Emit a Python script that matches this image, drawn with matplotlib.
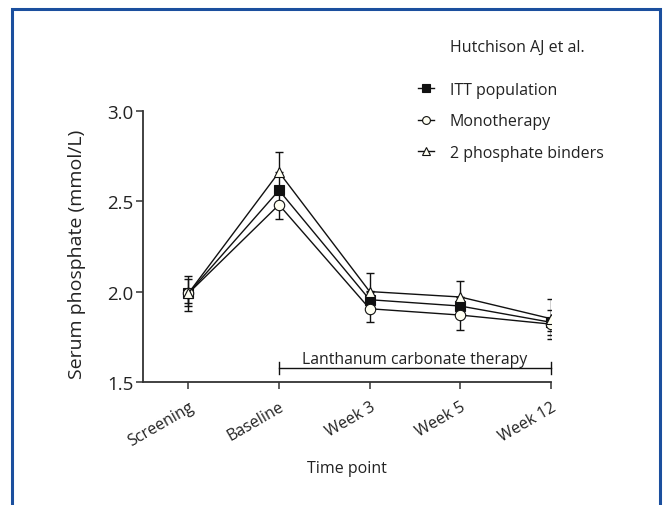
import matplotlib
matplotlib.use("Agg")
import matplotlib.pyplot as plt
from matplotlib.patches import Rectangle

plt.rcParams['font.family'] = ['Open Sans', 'DejaVu Sans']

# data
time_points = ['Screening', 'Baseline', 'Week 3', 'Week 5', 'Week 12']

itt_mean = [1.99, 2.56, 1.955, 1.92, 1.83]
itt_lo = [0.07, 0.08, 0.05, 0.05, 0.07]
itt_hi = [0.08, 0.08, 0.05, 0.05, 0.07]

mono_mean = [1.99, 2.48, 1.905, 1.87, 1.82]
mono_lo = [0.055, 0.08, 0.075, 0.08, 0.08]
mono_hi = [0.0, 0.0, 0.0, 0.0, 0.0]

binders_mean = [1.99, 2.66, 2.00, 1.97, 1.85]
binders_lo = [0.10, 0.0, 0.0, 0.0, 0.07]
binders_hi = [0.095, 0.11, 0.10, 0.09, 0.11]

series_names = ['ITT population', 'Monotherapy', '2 phosphate binders']

ink = '#111111'
txt = '#222222'
face = '#fffff2'

fig = plt.figure(figsize=(6.66, 5.06), dpi=100)
ax = fig.add_axes([143 / 666, 1 - 383 / 506, (551 - 143) / 666, (383 - 111.7) / 506])

x = list(range(len(time_points)))

series = [
    (itt_mean, itt_lo, itt_hi, 's', ink, 7, 3),
    (mono_mean, mono_lo, mono_hi, 'o', face, 7.5, 4),
    (binders_mean, binders_lo, binders_hi, '^', face, 7, 5),
]

handles = []
for (mean, lo, hi, mk, fc, ms, z), name in zip(series, series_names):
    ax.errorbar(x, mean, yerr=[lo, hi], fmt='none', ecolor=ink,
                elinewidth=1.0, capsize=3, capthick=1.0, zorder=2)
    ln, = ax.plot(x, mean, '-', color=ink, lw=1.0, marker=mk, ms=ms,
                  mfc=fc, mec=ink, mew=0.8, zorder=z, label=name)
    handles.append(ln)

# treatment period bracket
ax.plot([1, 4], [1.575, 1.575], color=ink, lw=1.0, clip_on=False)
ax.plot([1, 1], [1.545, 1.61], color=ink, lw=1.0, clip_on=False)
ax.plot([4, 4], [1.545, 1.61], color=ink, lw=1.0, clip_on=False)
ax.text(2.5, 1.585, 'Lanthanum carbonate therapy', ha='center', va='bottom',
        fontsize=11.3, color=txt)

ax.set_xlim(-0.5, 4)
ax.set_ylim(1.5, 3.0)
ax.set_yticks([1.5, 2.0, 2.5, 3.0])
ax.set_yticklabels(['1.5', '2.0', '2.5', '3.0'])
ax.set_xticks(x)
ax.set_xticklabels(time_points, rotation=30, ha='right', rotation_mode='anchor',
                   fontsize=11.5, color=txt)
ax.tick_params(axis='y', labelsize=13.5, labelcolor=txt, pad=2)
ax.tick_params(axis='x', pad=7)
ax.tick_params(direction='out', length=5, width=1.1, color='#333333')

for side in ['top', 'right']:
    ax.spines[side].set_visible(False)
for side in ['left', 'bottom']:
    ax.spines[side].set_color('#333333')
    ax.spines[side].set_linewidth(1.3)

ax.set_ylabel('Serum phosphate (mmol/L)', fontsize=14, color=txt)
ax.yaxis.set_label_coords(-0.14, 0.474)
ax.set_xlabel('Time point', fontsize=11.5, color=txt, labelpad=8)

fig.legend(handles=handles, loc='upper left',
           bbox_to_anchor=(410 / 666, 1 - 75 / 506), frameon=False,
           fontsize=11.5, labelcolor=txt, handlelength=1.0, handletextpad=1.0,
           labelspacing=0.97, borderpad=0, markerscale=0.75)

fig.text(450 / 666, 1 - 48 / 506, 'Hutchison AJ et al.', fontsize=11.5,
         color=txt, va='center', ha='left')

# blue frame round the figure (open at the bottom)
fig.patches.append(Rectangle((12 / 666, -0.05), (660 - 12) / 666, 1.05 - 10 / 506,
                             transform=fig.transFigure, fill=False,
                             edgecolor='#1b4f9e', linewidth=2.2))

fig.savefig('out.png', dpi=100)
